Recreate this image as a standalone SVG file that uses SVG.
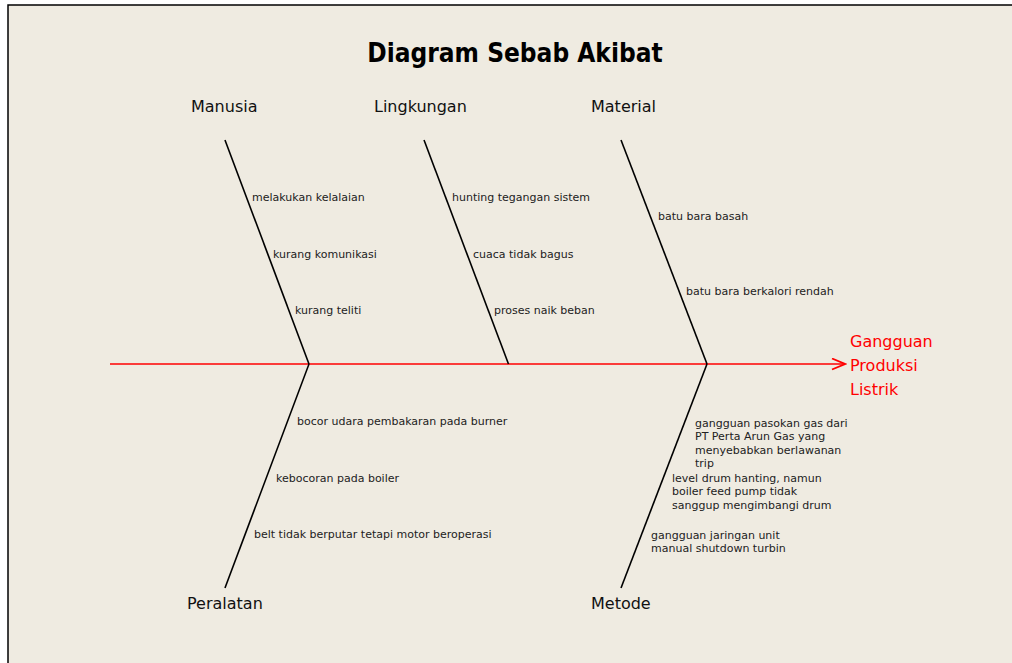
<svg xmlns="http://www.w3.org/2000/svg" width="1012" height="663" viewBox="0 0 1012 663">
  <style>
    .cat { font-family: "DejaVu Sans", Verdana, sans-serif; font-size: 16px; fill: #111111; }
    .sub { font-family: "DejaVu Sans", Verdana, sans-serif; font-size: 11px; fill: #222222; }
    .eff { font-family: "DejaVu Sans", Verdana, sans-serif; font-size: 16px; fill: #ff0000; }
    .title { font-family: "DejaVu Sans Condensed", "DejaVu Sans", sans-serif; font-weight: bold; font-size: 26px; fill: #000000; }
    .bone { stroke: #000000; stroke-width: 1.6; fill: none; }
    .spine { stroke: #ff0000; stroke-width: 1.6; fill: none; }
  </style>
  <defs>
    <marker id="arrow" markerWidth="16" markerHeight="14" refX="14" refY="6" orient="auto" markerUnits="userSpaceOnUse">
      <path d="M1,0.5 L14,6 L1,11.5" fill="none" stroke="#ff0000" stroke-width="1.8"/>
    </marker>
  </defs>
  <rect x="0" y="0" width="1012" height="663" fill="#ffffff"/>
  <rect x="8" y="5" width="1010" height="665" fill="#efebe1" stroke="#000000" stroke-width="1.5"/>

  <text class="title" x="515" y="62" text-anchor="middle">Diagram Sebab Akibat</text>

  <g id="connectors">
    <line class="spine" x1="110" y1="364" x2="845" y2="364" marker-end="url(#arrow)"/>
    <line class="bone" x1="225" y1="140" x2="309" y2="364"/>
    <line class="bone" x1="424" y1="140" x2="508.5" y2="364"/>
    <line class="bone" x1="621" y1="140" x2="707" y2="364"/>
    <line class="bone" x1="309" y1="364" x2="225" y2="588"/>
    <line class="bone" x1="707" y1="364" x2="621" y2="588"/>
  </g>

  <g id="manusia">
    <text class="cat" x="191" y="112">Manusia</text>
    <text class="sub" x="252" y="201">melakukan kelalaian</text>
    <text class="sub" x="273" y="258">kurang komunikasi</text>
    <text class="sub" x="295" y="314">kurang teliti</text>
  </g>

  <g id="lingkungan">
    <text class="cat" x="374" y="112">Lingkungan</text>
    <text class="sub" x="452" y="201">hunting tegangan sistem</text>
    <text class="sub" x="473" y="258">cuaca tidak bagus</text>
    <text class="sub" x="494" y="314">proses naik beban</text>
  </g>

  <g id="material">
    <text class="cat" x="591" y="112">Material</text>
    <text class="sub" x="658" y="220">batu bara basah</text>
    <text class="sub" x="686" y="295">batu bara berkalori rendah</text>
  </g>

  <g id="peralatan">
    <text class="cat" x="187" y="609">Peralatan</text>
    <text class="sub" x="297" y="425">bocor udara pembakaran pada burner</text>
    <text class="sub" x="276" y="482">kebocoran pada boiler</text>
    <text class="sub" x="254" y="538">belt tidak berputar tetapi motor beroperasi</text>
  </g>

  <g id="metode">
    <text class="cat" x="591" y="609">Metode</text>
    <text class="sub" x="695" y="426.5">gangguan pasokan gas dari</text>
    <text class="sub" x="695" y="440">PT Perta Arun Gas yang</text>
    <text class="sub" x="695" y="453.5">menyebabkan berlawanan</text>
    <text class="sub" x="695" y="467">trip</text>
    <text class="sub" x="672" y="481.5">level drum hanting, namun</text>
    <text class="sub" x="672" y="495">boiler feed pump tidak</text>
    <text class="sub" x="672" y="508.5">sanggup mengimbangi drum</text>
    <text class="sub" x="651" y="539">gangguan jaringan unit</text>
    <text class="sub" x="651" y="552">manual shutdown turbin</text>
  </g>

  <g id="effect">
    <text class="eff" x="850" y="347">Gangguan</text>
    <text class="eff" x="850" y="371">Produksi</text>
    <text class="eff" x="850" y="395">Listrik</text>
  </g>
</svg>
